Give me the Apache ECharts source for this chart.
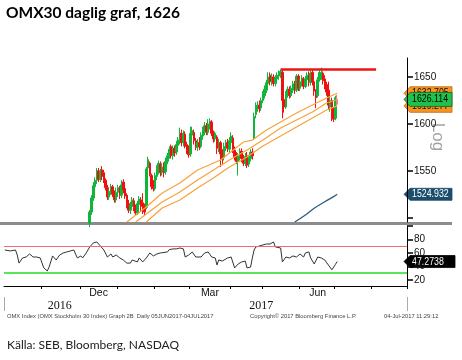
<!DOCTYPE html>
<html><head><meta charset="utf-8">
<script src="https://cdn.jsdelivr.net/npm/echarts@6/dist/echarts.min.js"></script>
<style>html,body{margin:0;padding:0;background:#fff}#c{width:462px;height:360px}</style>
</head><body><div id="c"></div>
<script>
// ---------- categories (trading days, then future weekdays) ----------
const axisStart = '2016-10-03';
const axisEnd = '2017-08-28';
const holidays = ['2016-12-26','2017-01-06','2017-04-14','2017-04-17','2017-05-01','2017-05-25','2017-06-06','2017-06-23'];

// ---------- OHLC (visible part of the chart) ----------
const candleDates = [
 '2016-12-08','2016-12-09','2016-12-12','2016-12-13','2016-12-14','2016-12-15','2016-12-16','2016-12-19','2016-12-20','2016-12-21','2016-12-22','2016-12-23','2016-12-27','2016-12-28','2016-12-29','2016-12-30',
 '2017-01-02','2017-01-03','2017-01-04','2017-01-05','2017-01-09','2017-01-10','2017-01-11','2017-01-12','2017-01-13','2017-01-16','2017-01-17','2017-01-18','2017-01-19','2017-01-20','2017-01-23','2017-01-24','2017-01-25','2017-01-26','2017-01-27','2017-01-30','2017-01-31',
 '2017-02-01','2017-02-02','2017-02-03','2017-02-06','2017-02-07','2017-02-08','2017-02-09','2017-02-10','2017-02-13','2017-02-14','2017-02-15','2017-02-16','2017-02-17','2017-02-20','2017-02-21','2017-02-22','2017-02-23','2017-02-24','2017-02-27','2017-02-28',
 '2017-03-01','2017-03-02','2017-03-03','2017-03-06','2017-03-07','2017-03-08','2017-03-09','2017-03-10','2017-03-13','2017-03-14','2017-03-15','2017-03-16','2017-03-17','2017-03-20','2017-03-21','2017-03-22','2017-03-23','2017-03-24','2017-03-27','2017-03-28','2017-03-29','2017-03-30','2017-03-31',
 '2017-04-03','2017-04-04','2017-04-05','2017-04-06','2017-04-07','2017-04-10','2017-04-11','2017-04-12','2017-04-13','2017-04-18','2017-04-19','2017-04-20','2017-04-21','2017-04-24','2017-04-25','2017-04-26','2017-04-27','2017-04-28',
 '2017-05-02','2017-05-03','2017-05-04','2017-05-05','2017-05-08','2017-05-09','2017-05-10','2017-05-11','2017-05-12','2017-05-15','2017-05-16','2017-05-17','2017-05-18','2017-05-19','2017-05-22','2017-05-23','2017-05-24','2017-05-26','2017-05-29','2017-05-30','2017-05-31',
 '2017-06-01','2017-06-02','2017-06-05','2017-06-07','2017-06-08','2017-06-09','2017-06-12','2017-06-13','2017-06-14','2017-06-15','2017-06-16','2017-06-19','2017-06-20','2017-06-21','2017-06-22','2017-06-26','2017-06-27','2017-06-28','2017-06-29','2017-06-30',
 '2017-07-03','2017-07-04'];
const candleOpen = [
 1494,1506,1521,1533,1540,1550,1541,1551,1548,1540,1532,1522,1527,1533,1526,1519,
 1527,1532,1524,1538,1531,1524,1515,1508,1512,1518,1511,1505,1514,1519,1516,1510,1511,1553,1558,1545,1536,
 1531,1544,1550,1557,1548,1555,1549,1560,1566,1576,1566,1574,1570,1577,1582,1590,1580,1589,1578,1573,
 1568,1588,1591,1582,1575,1580,1576,1587,1592,1598,1591,1598,1602,1590,1584,1586,1574,1580,1568,1564,1575,1580,1573,
 1580,1585,1572,1566,1560,1565,1571,1563,1558,1566,1557,1563,1570,1585,1610,1617,1620,1617,
 1625,1630,1636,1643,1652,1645,1650,1643,1648,1651,1653,1655,1626,1618,1632,1637,1630,1636,1643,1636,1651,
 1638,1644,1648,1640,1647,1652,1644,1655,1645,1634,1630,1647,1652,1654,1648,1642,1636,1618,1625,1610,
 1606,1621];
const candleClose = [
 1506,1521,1534,1540,1548,1541,1549,1544,1540,1532,1522,1528,1533,1525,1519,1527,
 1532,1524,1535,1530,1523,1515,1508,1514,1519,1511,1505,1515,1520,1512,1507,1506,1552,1562,1546,1533,1531,
 1545,1552,1558,1548,1554,1548,1560,1566,1573,1566,1574,1569,1578,1583,1590,1580,1589,1576,1572,1567,
 1590,1593,1582,1575,1580,1576,1588,1594,1598,1591,1600,1603,1590,1584,1590,1574,1580,1568,1563,1576,1580,1574,1582,
 1587,1572,1565,1560,1566,1571,1563,1558,1565,1556,1564,1570,1566,1608,1618,1620,1616,1625,
 1632,1637,1644,1650,1645,1650,1643,1649,1652,1654,1656,1625,1618,1632,1637,1630,1638,1643,1636,1651,1638,
 1645,1649,1640,1648,1652,1645,1654,1645,1635,1628,1647,1655,1654,1646,1640,1634,1620,1625,1606,1605,
 1628,1626.114];
const candleLow = [
 1490,1503,1518,1530,1536,1538,1538,1540,1537,1529,1519,1519,1524,1522,1516,1516,
 1522,1520,1521,1526,1520,1510,1505,1504,1509,1507,1503,1503,1510,1507,1504,1503,1509,1550,1544,1530,1528,
 1529,1540,1546,1544,1545,1543,1546,1557,1563,1563,1562,1565,1567,1572,1578,1576,1576,1574,1568,1564,
 1565,1582,1578,1572,1571,1572,1574,1583,1588,1588,1588,1594,1587,1580,1581,1568,1570,1554,1556,1561,1571,1570,1569,
 1576,1569,1561,1557,1545,1561,1559,1555,1555,1553,1554,1560,1562,1583,1606,1613,1612,1614,
 1622,1627,1633,1640,1641,1641,1640,1640,1644,1647,1649,1606,1612,1616,1628,1627,1628,1633,1632,1634,1635,
 1635,1640,1637,1638,1643,1640,1641,1641,1630,1617,1628,1645,1647,1642,1637,1630,1615,1613,1603,1602,
 1604,1619];
const candleHigh = [
 1508,1524,1538,1543,1553,1553,1552,1555,1551,1542,1535,1531,1536,1535,1529,1532,
 1535,1534,1540,1541,1533,1526,1519,1517,1522,1521,1514,1518,1523,1522,1526,1515,1554,1565,1560,1547,1540,
 1548,1556,1561,1560,1558,1559,1564,1569,1576,1578,1577,1577,1582,1586,1596,1594,1593,1592,1581,1577,
 1597,1597,1594,1585,1584,1586,1591,1597,1602,1601,1605,1606,1604,1593,1592,1588,1584,1582,1573,1580,1583,1584,1586,
 1591,1588,1576,1570,1569,1574,1574,1567,1569,1570,1567,1573,1574,1612,1623,1624,1625,1628,
 1635,1641,1647,1655,1655,1654,1653,1652,1655,1657,1658,1658,1630,1635,1640,1640,1641,1646,1646,1653,1653,
 1648,1652,1650,1651,1655,1656,1657,1658,1647,1637,1650,1658,1660,1656,1652,1645,1645,1630,1628,1618,
 1630,1631];
const hollowCandleDate = '2017-07-04';

// ---------- moving-average band (orange) ----------
const bandUpperDates = ['2017-01-10','2017-01-25','2017-02-07','2017-02-21','2017-03-07','2017-03-24','2017-04-12','2017-04-21','2017-05-04','2017-05-16','2017-05-30','2017-06-13','2017-06-26','2017-07-04'];
const bandUpperValues = [1495.4,1511.4,1526.3,1537,1550.9,1561.5,1580.7,1582.8,1593.5,1602,1611.6,1620.2,1627.6,1632.705];
const bandMidDates = ['2017-01-17','2017-02-07','2017-02-21','2017-03-07','2017-03-20','2017-03-31','2017-04-18','2017-05-02','2017-05-16','2017-05-30','2017-06-13','2017-06-26','2017-07-04'];
const bandMidValues = [1495.4,1516.8,1527.4,1540.2,1550.9,1561.5,1572.2,1582.8,1595.6,1604.2,1612.7,1622.3,1626.0];
const bandLowerDates = ['2017-01-25','2017-02-07','2017-02-21','2017-03-07','2017-03-20','2017-03-31','2017-04-18','2017-05-02','2017-05-16','2017-05-30','2017-06-13','2017-06-26','2017-07-04'];
const bandLowerValues = [1495.4,1510.4,1518.9,1531.7,1542.3,1554,1564.7,1576.4,1587.1,1596.7,1606.3,1614.8,1619.277];

// ---------- 200-day average (dark blue) ----------
const ma200Dates = ['2017-05-29','2017-06-07','2017-06-14','2017-06-22','2017-06-30','2017-07-04'];
const ma200Values = [1495.4,1502.9,1510,1517,1522.5,1524.932];

// ---------- resistance line ----------
const resistanceDates = ['2017-05-16','2017-08-03'];
const resistanceValues = [1658,1658];

// ---------- RSI ----------
const rsiDates = ['2016-10-03','2016-10-06','2016-10-11','2016-10-12','2016-10-13','2016-10-17','2016-10-19','2016-10-21','2016-10-25','2016-10-27','2016-10-31',
 '2016-11-02','2016-11-03','2016-11-04','2016-11-07','2016-11-09','2016-11-11','2016-11-15','2016-11-17','2016-11-21','2016-11-23','2016-11-25','2016-11-29',
 '2016-12-01','2016-12-02','2016-12-06','2016-12-08','2016-12-12','2016-12-14','2016-12-16','2016-12-20','2016-12-22','2016-12-27','2016-12-28','2016-12-30',
 '2017-01-03','2017-01-05','2017-01-10','2017-01-12','2017-01-13','2017-01-18','2017-01-19','2017-01-23','2017-01-25','2017-01-27','2017-01-31',
 '2017-02-02','2017-02-06','2017-02-07','2017-02-10','2017-02-13','2017-02-15','2017-02-17','2017-02-21','2017-02-23','2017-02-24','2017-02-28',
 '2017-03-02','2017-03-06','2017-03-07','2017-03-09','2017-03-13','2017-03-15','2017-03-17','2017-03-21','2017-03-22','2017-03-23','2017-03-27','2017-03-30','2017-03-31',
 '2017-04-03','2017-04-05','2017-04-07','2017-04-11','2017-04-13','2017-04-18','2017-04-20','2017-04-21','2017-04-24','2017-04-25','2017-04-27',
 '2017-05-02','2017-05-04','2017-05-08','2017-05-10','2017-05-11','2017-05-12','2017-05-16','2017-05-17','2017-05-19','2017-05-23','2017-05-26','2017-05-30',
 '2017-06-01','2017-06-05','2017-06-07','2017-06-09','2017-06-12','2017-06-13','2017-06-14','2017-06-16','2017-06-20','2017-06-22','2017-06-26','2017-06-27','2017-06-29','2017-06-30',
 '2017-07-03','2017-07-04'];
const rsiValues = [64.4,63,64.4,57,45,52.6,54,58.5,54,54,52.6,
 37.8,37.8,33.3,39,55.6,49.6,57,60,61.5,63,64.4,52.6,
 55.6,52.6,60,68.9,74.8,76.3,70.4,64.4,54,58.5,54,57,
 52.6,49.6,45,45,49.6,46.7,52.6,46.7,52.6,60,55.6,
 58.5,60,58.5,61.5,65,66,66,67.4,66,54,57,
 61.5,54,52.6,54,60,61.5,54,52.6,42.2,49.6,48,52.6,52.6,
 54,37.8,43.7,46.7,48,37.8,39,52.6,64.4,68.9,70.4,
 71.9,73.3,73.3,76.3,68.9,70.4,67.4,46.7,54,52.6,55.6,54,
 58.5,54,60,61.5,52.6,52.6,43.7,54,52.6,49.6,48,42.2,35,33.3,
 43,47.2738];
const rsiLevels = [70, 30];

// ---------- axis ticks / labels ----------
const priceTicks = [1500,1550,1600,1650];
const priceLabels = [1550,1600,1650];
const rsiTicks = [20,40,60,80,100];
const rsiLabels = [20,40,60,80];
const monthLabelDates = ['2016-12-15','2017-03-16','2017-06-16'];
const monthLabelNames = ['Dec','Mar','Jun'];
const yearLabelDates = ['2016-11-15','2017-04-28'];
const yearSeparatorDate = '2017-01-02';

// ---------- right-hand value tags ----------
const bandTagValues = [1632.705, 1619.277];
const lastPrice = 1626.114;
const ma200Tag = 1524.932;
const rsiTag = 47.2738;

// ---------- build categories ----------
function iso(d){ return d.toISOString().slice(0,10); }
const categories = [];
(function(){
  const d = new Date(axisStart + 'T00:00:00Z'), end = new Date(axisEnd + 'T00:00:00Z');
  while (d <= end) {
    const wd = d.getUTCDay(), s = iso(d);
    if (wd !== 0 && wd !== 6 && holidays.indexOf(s) < 0) categories.push(s);
    d.setUTCDate(d.getUTCDate() + 1);
  }
})();
const monthStartIdx = new Set();
categories.forEach((c, i) => { if (i > 0 && c.slice(0,7) !== categories[i-1].slice(0,7)) monthStartIdx.add(i); });

const candleMap = {};
candleDates.forEach((d, i) => { candleMap[d] = [candleOpen[i], candleClose[i], candleLow[i], candleHigh[i]]; });
const candleData = categories.map(c => {
  if (!candleMap[c]) return '-';
  if (c === hollowCandleDate) return { value: candleMap[c], itemStyle: { color: '#ffffff', borderColor: '#f08080', color0: '#ffffff', borderColor0: '#f08080' } };
  return candleMap[c];
});
const pairs = (ds, vs) => ds.map((d, i) => [d, vs[i]]);

const UP = '#10b53c', DOWN = '#f01010', ORANGE = '#f8a23a';
const SANS = '"Liberation Sans",Arial,sans-serif';

const chart = echarts.init(document.getElementById('c'), null, { renderer: 'canvas' });
const option = {
  animation: false,
  backgroundColor: '#ffffff',
  grid: [
    { left: 4, right: 55, top: 58, bottom: 138 },
    { left: 4, right: 55, top: 226, bottom: 74 }
  ],
  xAxis: [
    { type: 'category', gridIndex: 0, data: categories, show: false, boundaryGap: true },
    { type: 'category', gridIndex: 1, data: categories, boundaryGap: true,
      axisLine: { show: true, lineStyle: { color: '#000', width: 1 } },
      axisTick: { show: true, length: 3, lineStyle: { color: '#000' }, interval: (i) => monthStartIdx.has(i) },
      axisLabel: { show: true, interval: (i, v) => monthLabelDates.indexOf(v) >= 0, margin: 2,
        formatter: v => monthLabelNames[monthLabelDates.indexOf(v)] || '',
        fontFamily: SANS, fontSize: 10.5, color: '#111', hideOverlap: false },
      splitLine: { show: false } },
    { type: 'category', gridIndex: 1, data: categories, boundaryGap: true, position: 'bottom', offset: 11,
      axisLine: { show: false },
      axisTick: { show: true, length: 14, lineStyle: { color: '#aaaaaa' }, interval: (i, v) => v === yearSeparatorDate },
      axisLabel: { show: true, interval: (i, v) => yearLabelDates.indexOf(v) >= 0, margin: 3,
        formatter: v => v.slice(0,4), fontFamily: '"Liberation Serif",serif', fontSize: 12, color: '#111', hideOverlap: false },
      splitLine: { show: false } }
  ],
  yAxis: [
    { type: 'value', gridIndex: 0, position: 'right', min: 1495.4, max: 1670.3, scale: true,
      axisLine: { show: true, lineStyle: { color: '#000' } },
      axisTick: { show: true, length: 6, lineStyle: { color: '#000', width: 1.5 }, customValues: priceTicks },
      axisLabel: { show: true, customValues: priceLabels, margin: 7, formatter: v => String(v), fontFamily: SANS, fontSize: 10, color: '#111' },
      splitLine: { show: false } },
    { type: 'value', gridIndex: 1, position: 'right', min: 11, max: 100,
      axisLine: { show: true, lineStyle: { color: '#000' } },
      axisTick: { show: true, length: 6, lineStyle: { color: '#000', width: 1.5 }, customValues: rsiTicks },
      axisLabel: { show: true, customValues: rsiLabels, margin: 7, formatter: v => String(v), fontFamily: SANS, fontSize: 10, color: '#111' },
      splitLine: { show: false } }
  ],
  series: [
    { type: 'candlestick', xAxisIndex: 0, yAxisIndex: 0, data: candleData, barWidth: 2, clip: true,
      itemStyle: { color: UP, color0: DOWN, borderColor: UP, borderColor0: DOWN, borderWidth: 1 } },
    { type: 'line', xAxisIndex: 0, yAxisIndex: 0, data: pairs(bandUpperDates, bandUpperValues), symbol: 'none', clip: true, lineStyle: { color: ORANGE, width: 1.2 } },
    { type: 'line', xAxisIndex: 0, yAxisIndex: 0, data: pairs(bandMidDates, bandMidValues), symbol: 'none', clip: true, lineStyle: { color: ORANGE, width: 1.2 } },
    { type: 'line', xAxisIndex: 0, yAxisIndex: 0, data: pairs(bandLowerDates, bandLowerValues), symbol: 'none', clip: true, lineStyle: { color: ORANGE, width: 1.2 } },
    { type: 'line', xAxisIndex: 0, yAxisIndex: 0, data: pairs(ma200Dates, ma200Values), symbol: 'none', clip: true, smooth: true, lineStyle: { color: '#2b5c7c', width: 1.3 } },
    { type: 'line', xAxisIndex: 0, yAxisIndex: 0, data: pairs(resistanceDates, resistanceValues), symbol: 'none', clip: false, lineStyle: { color: '#ee1515', width: 2.5 } },
    { type: 'line', xAxisIndex: 1, yAxisIndex: 1, data: pairs(rsiDates, rsiValues), symbol: 'none', lineStyle: { color: '#333333', width: 1 },
      markLine: { silent: true, symbol: 'none', label: { show: false },
        data: [ { yAxis: rsiLevels[0], lineStyle: { color: '#f46a6a', width: 1, type: 'solid' } },
                { yAxis: rsiLevels[1], lineStyle: { color: '#22dd22', width: 1.5, type: 'solid' } } ] } }
  ]
};
chart.setOption(option);

function tag(yc, bg, stroke, txt, fg, h, x1) {
  const x0 = 404, n = 6;
  return { type: 'group', z: 100, children: [
    { type: 'polygon', shape: { points: [[x0, yc], [x0 + n, yc - h / 2], [x1, yc - h / 2], [x1, yc + h / 2], [x0 + n, yc + h / 2]] },
      style: { fill: bg, stroke: stroke, lineWidth: 0.8 } },
    { type: 'text', x: x0 + n + 2, y: yc, scaleX: 0.8, style: { text: txt, fill: fg, font: '11px ' + SANS, verticalAlign: 'middle', align: 'left' } }
  ]};
}
const py = (idx, v) => chart.convertToPixel({ yAxisIndex: idx }, v);
const graphics = [
  { type: 'rect', shape: { x: 0, y: 222, width: 452, height: 3 }, style: { fill: '#8c8c8c' } },
  { type: 'text', x: 6, y: 13, style: { text: 'OMX30 daglig graf, 1626', font: 'bold 15.5px Lato', fill: '#000', verticalAlign: 'middle' } },
  { type: 'text', x: 438, y: 137, rotation: -Math.PI / 2, style: { text: 'Log', font: '17px ' + SANS, fill: '#a3a3a3', align: 'center', verticalAlign: 'middle' } },
  tag(py(0, bandTagValues[0]), '#f7931e', '#b86a10', bandTagValues[0].toFixed(3), '#111', 13, 452),
  tag(py(0, bandTagValues[1]), '#f7931e', '#b86a10', bandTagValues[1].toFixed(3), '#111', 13, 452),
  tag(py(0, lastPrice), '#1fc24c', '#1b5e2a', lastPrice.toFixed(3), '#000', 14, 452),
  tag(py(0, ma200Tag), '#1c4e6c', '#1c4e6c', ma200Tag.toFixed(3), '#fff', 12, 452),
  tag(py(1, rsiTag), '#000', '#000', rsiTag.toFixed(4), '#fff', 12, 455),
  { type: 'text', x: 7, y: 316, style: { text: 'OMX Index (OMX Stockholm 30 Index) Graph 2B  Daily 05JUN2017-04JUL2017', font: '5.8px ' + SANS, fill: '#444', verticalAlign: 'middle' } },
  { type: 'text', x: 250, y: 316, style: { text: 'Copyright\u00a9 2017 Bloomberg Finance L.P.', font: '5.8px ' + SANS, fill: '#444', verticalAlign: 'middle' } },
  { type: 'text', x: 384, y: 316, style: { text: '04-Jul-2017 11:29:12', font: '5.8px ' + SANS, fill: '#444', verticalAlign: 'middle' } },
  { type: 'text', x: 7, y: 345, style: { text: 'Källa: SEB, Bloomberg, NASDAQ', font: '12px Lato', fill: '#222', verticalAlign: 'middle' } }
];
chart.setOption({ graphic: graphics });
</script></body></html>
